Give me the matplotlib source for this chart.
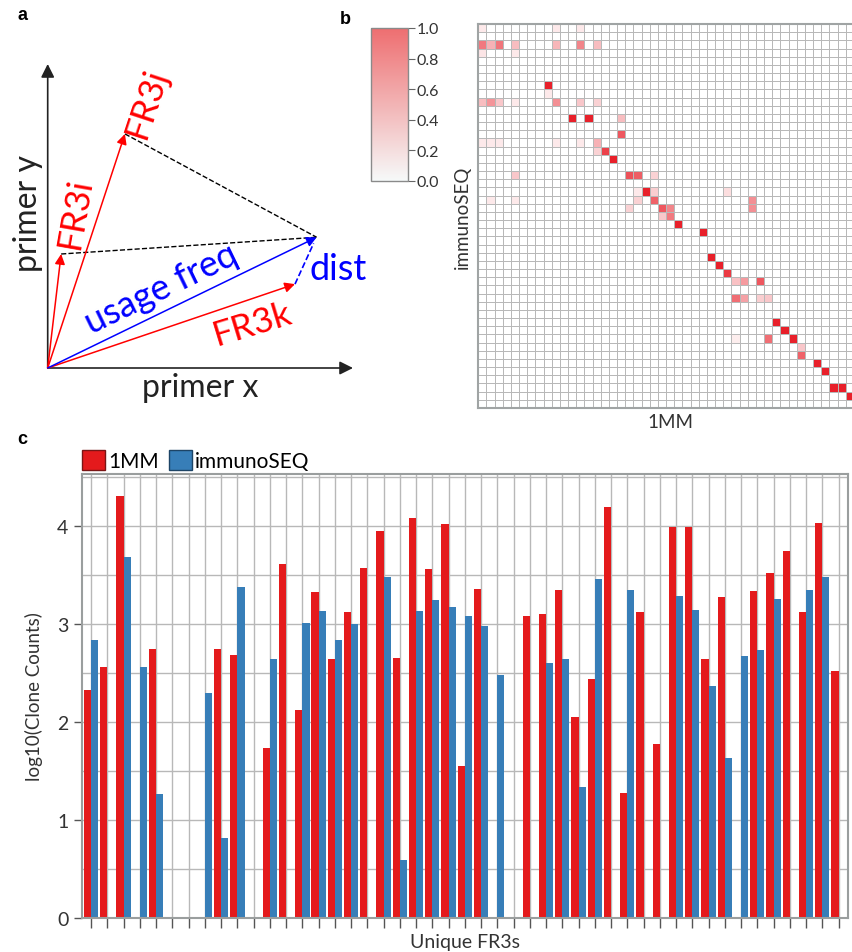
import numpy as np
import matplotlib
matplotlib.use('Agg')
import matplotlib.pyplot as plt
from matplotlib.colors import LinearSegmentedColormap, Normalize
from matplotlib.cm import ScalarMappable
from matplotlib.ticker import MultipleLocator

plt.rcParams['font.family'] = ['Lato', 'DejaVu Sans']

# panel a: primer usage vectors (primer x, primer y)
fr3i = (0.044, 0.375)
fr3j = (0.253, 0.770)
fr3k = (0.81, 0.276)
usage = (0.881, 0.43)

# panel b: 1MM vs immunoSEQ similarity, non-empty cells only
n_fr3 = 47
hm_rows = [0, 0, 0,
           2, 2, 2, 2, 2, 2, 2,
           3, 3, 7, 8,
           9, 9, 9, 9, 9, 9, 9,
           11, 11, 11, 13,
           14, 14, 14, 14, 14, 14,
           15, 15, 16,
           18, 18, 18, 18,
           20, 20, 20, 20,
           21, 21, 21, 21, 21,
           22, 22, 22, 22,
           23, 23, 24, 25, 28, 29, 30,
           31, 31, 31,
           33, 33, 33, 33,
           36, 37, 38, 38, 38,
           39, 40, 41, 42, 44, 44, 45]
hm_cols = [0, 9, 12,
           0, 1, 2, 4, 9, 12, 14,
           0, 4, 8, 8,
           0, 1, 2, 4, 9, 12, 14,
           11, 13, 17, 17,
           0, 1, 2, 9, 12, 14,
           14, 15, 16,
           4, 18, 19, 21,
           19, 20, 21, 30,
           1, 4, 19, 21, 33,
           18, 22, 23, 33,
           22, 23, 24, 27, 28, 29, 30,
           31, 32, 34,
           31, 32, 34, 35,
           36, 37, 31, 35, 38,
           39, 39, 41, 42, 43, 44, 45]
hm_vals = [0.1, 0.1, 0.1,
           0.6, 0.35, 0.62, 0.3, 0.33, 0.55, 0.3,
           0.12, 0.1, 1.0, 0.1,
           0.3, 0.48, 0.25, 0.1, 0.5, 0.25, 0.2,
           1.0, 1.0, 0.3, 0.75,
           0.1, 0.1, 0.1, 0.1, 0.1, 0.35,
           0.2, 0.85, 1.0,
           0.25, 0.78, 0.72, 0.2,
           0.1, 1.0, 0.22, 0.15,
           0.1, 0.1, 0.2, 0.7, 0.5,
           0.2, 0.75, 0.55, 0.5,
           0.25, 0.6, 1.0, 1.0, 1.0, 1.0, 0.88,
           0.28, 0.45, 0.75,
           0.65, 0.42, 0.22, 0.25,
           1.0, 1.0, 0.08, 0.65, 1.0,
           0.25, 0.7, 1.0, 1.0, 1.0, 1.0, 1.0]

# panel c: log10 clone counts per unique FR3 (0 = not observed)
mm_counts = [2.33, 2.56, 4.31, 0, 2.74, 0, 0, 0, 2.74, 2.68,
             0, 1.73, 3.61, 2.12, 3.33, 2.64, 3.12, 3.57, 3.95, 2.65,
             4.08, 3.56, 4.02, 1.55, 3.36, 0, 0, 3.08, 3.10, 3.35,
             2.05, 2.44, 4.19, 1.28, 3.12, 1.78, 3.99, 3.99, 2.64, 3.28,
             0, 3.34, 3.52, 3.74, 3.12, 4.03, 2.52]
seq_counts = [2.84, 0, 3.68, 2.56, 1.27, 0, 0, 2.30, 0.82, 3.38,
              0, 2.64, 0, 3.01, 3.13, 2.84, 3.00, 0, 3.48, 0.59,
              3.13, 3.24, 3.17, 3.08, 2.98, 2.48, 0, 0, 2.60, 2.64,
              1.34, 3.46, 0, 3.35, 0, 0, 3.29, 3.14, 2.37, 1.63,
              2.67, 2.73, 3.25, 0, 3.35, 3.48, 0]

RED = '#e41a1c'
BLUE = '#377eb8'
W, H = 852, 953


def fig_box(x0, y0, x1, y1):
    # pixel box (top-left origin) -> figure fraction rect
    return [x0 / W, 1 - y1 / H, (x1 - x0) / W, (y1 - y0) / H]


fig = plt.figure(figsize=(8.52, 9.53), dpi=100)

# ---------------- panel a ----------------
ax_a = fig.add_axes(fig_box(47.7, 65, 353, 369))
ax_a.set_xlim(0, 1)
ax_a.set_ylim(0, 1)
ax_a.axis('off')

axis_style = dict(arrowstyle='-|>', color='#222222', lw=1.2, mutation_scale=20,
                  shrinkA=0, shrinkB=0)
ax_a.annotate('', xy=(1.0, 0), xytext=(0, 0), arrowprops=axis_style)
ax_a.annotate('', xy=(0, 1.0), xytext=(0, 0), arrowprops=axis_style)

for vec, col in [(fr3i, 'red'), (fr3j, 'red'), (fr3k, 'red'), (usage, 'blue')]:
    ax_a.annotate('', xy=vec, xytext=(0, 0),
                  arrowprops=dict(arrowstyle='-|>', color=col, lw=1.1,
                                  mutation_scale=15, shrinkA=0, shrinkB=0))

ax_a.plot([fr3j[0], usage[0]], [fr3j[1], usage[1]], '--', color='black', lw=1)
ax_a.plot([fr3i[0], usage[0]], [fr3i[1], usage[1]], '--', color='black', lw=1)
ax_a.plot([fr3k[0], usage[0] - 0.01], [fr3k[1], usage[1] - 0.02], '--', color='blue', lw=1.2)


def vec_angle(v):
    return np.degrees(np.arctan2(v[1] * 304, v[0] * 305.3))


ax_a.text(0.325, 0.875, 'FR3j', color='red', fontsize=25.5, rotation=vec_angle(fr3j),
          ha='center', va='center', rotation_mode='anchor')
ax_a.text(0.089, 0.513, 'FR3i', color='red', fontsize=25.5, rotation=80,
          ha='center', va='center', rotation_mode='anchor')
ax_a.text(0.372, 0.262, 'usage freq', color='blue', fontsize=26, rotation=vec_angle(usage),
          ha='center', va='center', rotation_mode='anchor')
ax_a.text(0.672, 0.145, 'FR3k', color='red', fontsize=25.5, rotation=17,
          ha='center', va='center', rotation_mode='anchor')
ax_a.text(0.952, 0.326, 'dist', color='blue', fontsize=26, ha='center', va='center')
ax_a.text(-0.064, 0.513, 'primer y', color='#222222', fontsize=23, rotation=90,
          ha='center', va='center')
ax_a.text(0.5, -0.0625, 'primer x', color='#222222', fontsize=23, ha='center', va='center')

# ---------------- panel b ----------------
sim = np.zeros((n_fr3, n_fr3))
for r, c, v in zip(hm_rows, hm_cols, hm_vals):
    sim[r, c] = v

cell = 8.167
ax_b = fig.add_axes(fig_box(478.3, 25, 478.3 + n_fr3 * cell, 25 + n_fr3 * cell))
hm_cmap = LinearSegmentedColormap.from_list('hm', ['#ffffff', '#e8202a'])
ax_b.pcolormesh(np.arange(n_fr3 + 1), np.arange(n_fr3 + 1), sim, cmap=hm_cmap,
                vmin=0, vmax=1, edgecolors='#b8b8b8', linewidth=0.6)
ax_b.set_xlim(0, n_fr3)
ax_b.set_ylim(n_fr3, 0)
ax_b.set_xticks([])
ax_b.set_yticks([])
for sp in ax_b.spines.values():
    sp.set_color('#a0a4a4')
    sp.set_linewidth(1.5)
ax_b.set_xlabel('1MM', fontsize=13.5, color='#333333', labelpad=4)
ax_b.set_ylabel('immunoSEQ', fontsize=13.5, color='#333333', labelpad=5)

cax = fig.add_axes(fig_box(370.7, 29, 408.3, 181.7))
cb_cmap = LinearSegmentedColormap.from_list('cb', ['#f6f9f9', '#ee6e70'])
cb = fig.colorbar(ScalarMappable(norm=Normalize(0, 1), cmap=cb_cmap), cax=cax)
cb.set_ticks([0.0, 0.2, 0.4, 0.6, 0.8, 1.0])
cb.set_ticklabels(['0.0', '0.2', '0.4', '0.6', '0.8', '1.0'])
cb.outline.set_edgecolor('#8a8a8a')
cb.outline.set_linewidth(1)
cax.tick_params(labelsize=11.5, length=5, color='#666666', labelcolor='#333333', pad=1)

# ---------------- panel c ----------------
ax_c = fig.add_axes(fig_box(81.7, 475, 848.3, 919))
pos = np.arange(n_fr3)
bw = 0.44
ax_c.bar(pos - bw, mm_counts, width=bw, align='edge', color=RED, label='1MM', zorder=2)
ax_c.bar(pos, seq_counts, width=bw, align='edge', color=BLUE, label='immunoSEQ', zorder=2)
ax_c.set_xlim(-0.58, n_fr3 - 0.4)
ax_c.set_ylim(0, 4.53)
ax_c.set_xticks(pos)
ax_c.set_xticklabels([])
ax_c.yaxis.set_major_locator(MultipleLocator(1))
ax_c.yaxis.set_minor_locator(MultipleLocator(0.5))
ax_c.grid(True, which='both', color='#b8b8b8', lw=1)
ax_c.set_axisbelow(True)
ax_c.tick_params(axis='x', length=7, width=1, color='#555555')
ax_c.tick_params(axis='y', which='major', length=6, width=1, color='#555555',
                 labelsize=14, labelcolor='#333333')
ax_c.tick_params(axis='y', which='minor', length=0)
for sp in ax_c.spines.values():
    sp.set_color('#9a9e9e')
    sp.set_linewidth(1.5)
ax_c.set_xlabel('Unique FR3s', fontsize=14, color='#333333', labelpad=0)
ax_c.set_ylabel('log10(Clone Counts)', fontsize=13.5, color='#333333', labelpad=10)
leg = ax_c.legend(loc='lower left', bbox_to_anchor=(-0.004, 1.0), ncol=2, frameon=False,
                  fontsize=15, handlelength=1.1, handleheight=1.1, handletextpad=0.15,
                  columnspacing=0.5, borderaxespad=0.05, borderpad=0.1)
for h, ec in zip(leg.legend_handles, ['#7a1515', '#1d4466']):
    h.set_edgecolor(ec)
    h.set_linewidth(1)

# panel letters
fig.text(23 / W, 1 - 15 / H, 'a', fontsize=13, fontweight='bold', ha='center', va='center',
         family='Liberation Sans')
fig.text(345 / W, 1 - 20 / H, 'b', fontsize=13, fontweight='bold', ha='center', va='center',
         family='Liberation Sans')
fig.text(22 / W, 1 - 440 / H, 'c', fontsize=13, fontweight='bold', ha='center', va='center',
         family='Liberation Sans')

fig.savefig('out.png', dpi=100)
